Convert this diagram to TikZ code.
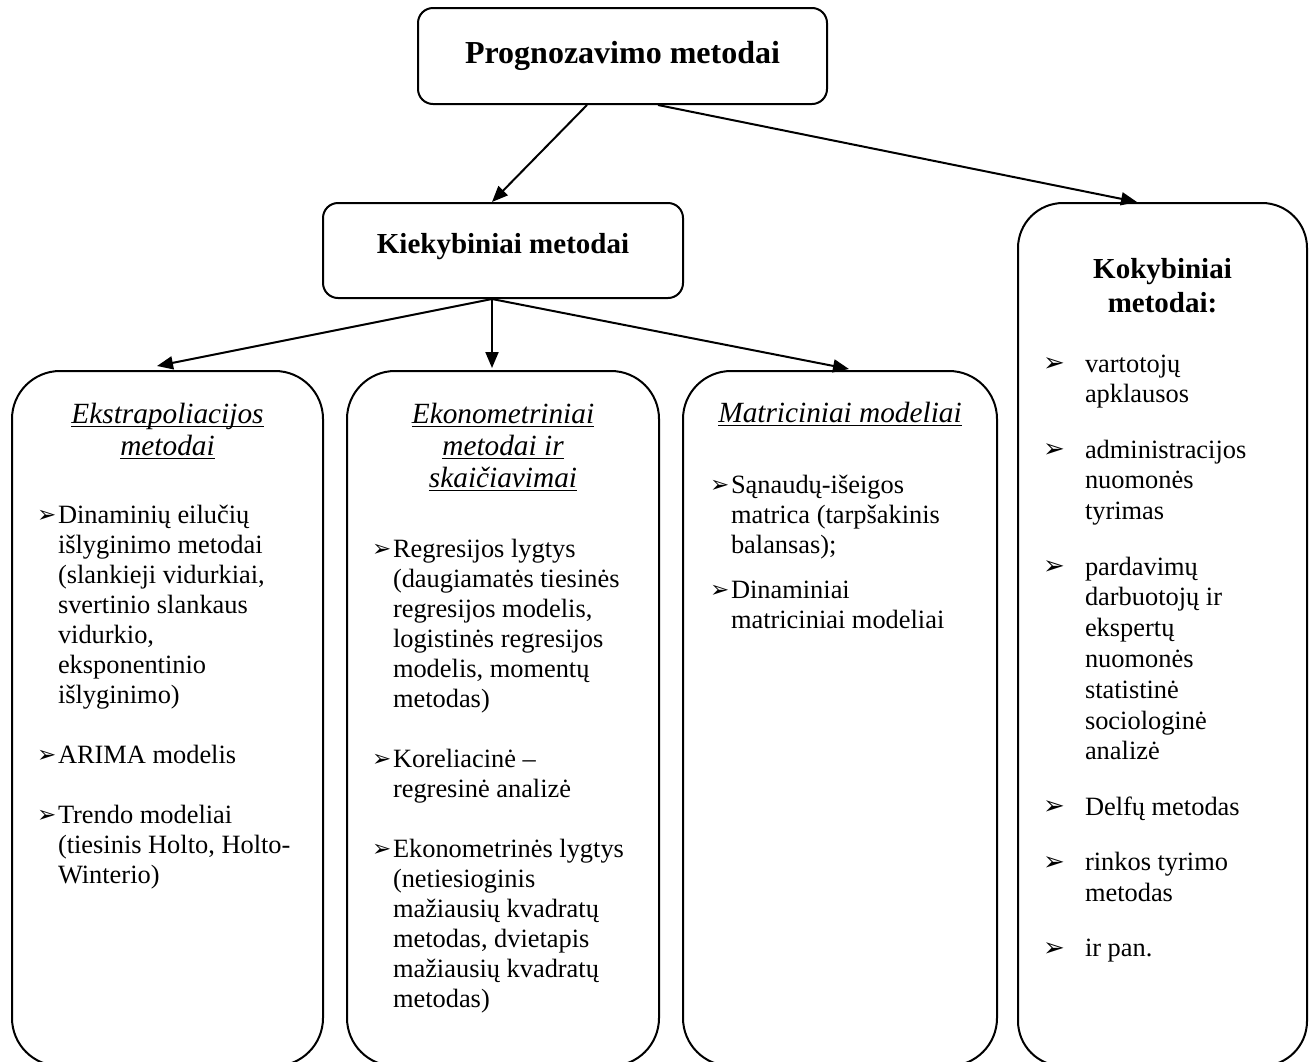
\documentclass[tikz,border=0pt]{standalone}
\usepackage{fontspec}
\setmainfont{Liberation Serif}
\newfontfamily\symfont{DejaVu Sans}
\usetikzlibrary{arrows.meta,calc}

\newsavebox\ulbox
\newcommand\ulx[1]{\leavevmode\sbox\ulbox{#1}\rlap{\rule[-2.2pt]{\wd\ulbox}{0.8pt}}\usebox\ulbox}
\newlength\hangw
\newlength\bulsize
\setlength\bulsize{11.5pt}
\newcommand\bul{\raisebox{0.2pt}{\symfont\fontsize{\bulsize}{\bulsize}\selectfont ➢}}
\newcommand\bitem[1]{\par\noindent\hangindent=\hangw\hangafter=1\makebox[\hangw][l]{\bul}{\let\\\newline #1}\par}
\newcommand\bodyfont{\fontsize{13.2pt}{15pt}\selectfont}
\newcommand\headfont{\fontsize{14.65pt}{16pt}\itshape\selectfont}

\tikzset{
  box/.style={draw, line width=1pt, inner sep=0pt},
  smallbox/.style={box, rounded corners=7.5pt},
  bigbox/.style={box, rounded corners=24pt},
  txt/.style={inner sep=0pt, outer sep=0pt},
  arr/.style={line width=1pt, -{Triangle[length=8pt,width=6.5pt]}}
}

\begin{document}
\begin{tikzpicture}[x=0.5pt,y=-0.5pt]
\useasboundingbox (0,0) rectangle (1315,1061);
\clip (0,0) rectangle (1315,1061);

% boxes
\node[smallbox, minimum width=204.5pt, minimum height=48pt] (top) at (622.5,56) {};
\node[smallbox, minimum width=180pt, minimum height=47.5pt] (kiek) at (503,250.5) {};
\node[bigbox, minimum width=155.5pt, minimum height=347.5pt] (ekst) at (167.5,718.5) {};
\node[bigbox, minimum width=156pt, minimum height=347.5pt] (ekon) at (503,718.5) {};
\node[bigbox, minimum width=157pt, minimum height=347.5pt] (matr) at (840,718.5) {};
\node[box, rounded corners=22.5pt, minimum width=144.5pt, minimum height=431.5pt] (koky) at (1162.5,634.5) {};

% titles
\node[txt, anchor=base] (topT) at (622.5,63) {\fontsize{16pt}{18pt}\bfseries\selectfont Prognozavimo metodai};
\node[txt, anchor=base] (kiekT) at (503,253) {\fontsize{14.5pt}{16pt}\bfseries\selectfont Kiekybiniai metodai};

% headings
\node[txt, anchor=base] (ekstH) at (167.5,423) {\parbox[t]{150pt}{\centering\headfont \ulx{Ekstrapoliacijos}\\\ulx{metodai}}};
\node[txt, anchor=base] (ekonH) at (503,423) {\parbox[t]{150pt}{\centering\headfont \ulx{Ekonometriniai}\\\ulx{metodai ir}\\\ulx{skaičiavimai}}};
\node[txt, anchor=base] (matrH) at (840,422) {\parbox[t]{150pt}{\centering\headfont \ulx{Matriciniai modeliai}}};
\node[txt, anchor=base] (kokyH) at (1162.5,278) {\parbox[t]{140pt}{\centering\fontsize{14.5pt}{17pt}\bfseries\selectfont Kokybiniai\\metodai:}};

% bodies
\node[txt, anchor=base west] (ekstB) at (37,523) {\parbox[t]{140pt}{\bodyfont\setlength\hangw{10.5pt}%
\bitem{Dinaminių eilučių\\išlyginimo metodai\\(slankieji vidurkiai,\\svertinio slankaus\\vidurkio,\\eksponentinio\\išlyginimo)}\vspace{15pt}
\bitem{ARIMA modelis}\vspace{15pt}
\bitem{Trendo modeliai\\(tiesinis Holto, Holto-\\Winterio)}}};

\node[txt, anchor=base west] (ekonB) at (372,557) {\parbox[t]{140pt}{\bodyfont\setlength\hangw{10.5pt}%
\bitem{Regresijos lygtys\\(daugiamatės tiesinės\\regresijos modelis,\\logistinės regresijos\\modelis, momentų\\metodas)}\vspace{15pt}
\bitem{Koreliacinė –\\regresinė analizė}\vspace{15pt}
\bitem{Ekonometrinės lygtys\\(netiesioginis\\mažiausių kvadratų\\metodas, dvietapis\\mažiausių kvadratų\\metodas)}}};

\node[txt, anchor=base west] (matrB) at (710,493) {\parbox[t]{140pt}{\bodyfont\setlength\hangw{10.5pt}%
\bitem{Sąnaudų-išeigos\\matrica (tarpšakinis\\balansas);}\vspace{7.5pt}
\bitem{Dinaminiai\\matriciniai modeliai}}};

\node[txt, anchor=base west] (kokyB) at (1043,372) {\parbox[t]{125pt}{\fontsize{13.2pt}{15.4pt}\selectfont\setlength\hangw{21pt}\setlength\bulsize{13pt}%
\bitem{vartotojų\\apklausos}\vspace{12.25pt}
\bitem{administracijos\\nuomonės\\tyrimas}\vspace{12.25pt}
\bitem{pardavimų\\darbuotojų ir\\ekspertų\\nuomonės\\statistinė\\sociologinė\\analizė}\vspace{12.25pt}
\bitem{Delfų metodas}\vspace{12.25pt}
\bitem{rinkos tyrimo\\metodas}\vspace{12.25pt}
\bitem{ir pan.}}};

% connectors
\draw[arr] ($(top.south)+(-35.5,0)$) -- ($(kiek.north)+(-11,0)$);
\draw[arr] ($(top.south)+(35.5,0)$) -- ($(koky.north)+(-25.5,0)$);
\draw[arr] ($(kiek.south)+(-11,0)$) -- ($(ekst.north)+(-10.5,-4)$);
\draw[arr] ($(kiek.south)+(-11,0)$) -- ($(ekon.north)+(-11,-2)$);
\draw[arr] ($(kiek.south)+(-11,0)$) -- ($(matr.north)+(9,-1)$);
\end{tikzpicture}
\end{document}
